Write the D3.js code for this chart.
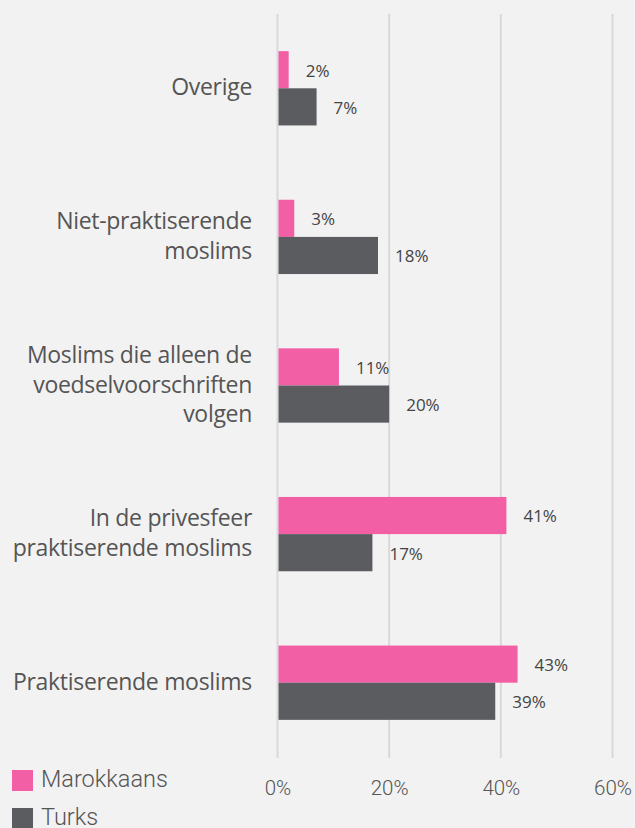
<!DOCTYPE html>
<html lang="nl">
<head>
<meta charset="utf-8">
<script src="https://d3js.org/d3.v7.min.js"></script>
<style>
body { margin: 0; background: #f2f2f2; }
svg { display: block; }
text.cat { font-family: 'Open Sans', sans-serif; font-size: 23px; letter-spacing: -0.3px; fill: #555; }
text.value { font-family: 'Open Sans', sans-serif; font-size: 17px; fill: #444; }
.axis text { font-family: Roboto, sans-serif; font-weight: 300; font-size: 20.5px; fill: #555; }
.axis path { display: none; }
.grid line { stroke: #d9d9d9; stroke-width: 2; }
text.legend { font-family: Roboto, sans-serif; font-weight: 300; font-size: 23.5px; fill: #555; }
</style>
</head>
<body>
<svg id="chart" width="635" height="828"></svg>
<script>
// categories, top to bottom (each entry = lines of the label)
const categories = [
  ['Overige'],
  ['Niet-praktiserende', 'moslims'],
  ['Moslims die alleen de', 'voedselvoorschriften', 'volgen'],
  ['In de privesfeer', 'praktiserende moslims'],
  ['Praktiserende moslims']
]
const marokkaans = [2, 3, 11, 41, 43]
const turks = [7, 18, 20, 17, 39]
const series = ['Marokkaans', 'Turks']
const colors = ['#f25fa5', '#5b5c60']
const ticks = [0, 20, 40, 60]

const svg = d3.select('#chart')

const x = d3.scaleLinear().domain([0, 60]).range([277.5, 612.5])
const y = d3.scaleBand()
  .domain(categories.map((c, i) => i))
  .range([14, 757])
  .paddingInner(0.5)
  .paddingOuter(0.25)
const sub = d3.scaleBand().domain(series).range([0, y.bandwidth()])

// gridlines
svg.append('g')
  .attr('class', 'grid')
  .selectAll('line')
  .data(ticks)
  .join('line')
  .attr('x1', d => x(d)).attr('x2', d => x(d))
  .attr('y1', 14).attr('y2', 758)

// bars
const rows = categories.map((c, i) => ({ i, vals: [marokkaans[i], turks[i]] }))
const groups = svg.append('g').selectAll('g')
  .data(rows)
  .join('g')
  .attr('transform', d => `translate(0, ${y(d.i)})`)

groups.selectAll('rect')
  .data(d => d.vals.map((v, k) => ({ v, k })))
  .join('rect')
  .attr('x', x(0) + 1)
  .attr('y', d => sub(series[d.k]))
  .attr('width', d => x(d.v) - x(0) - 1)
  .attr('height', sub.bandwidth())
  .attr('fill', d => colors[d.k])

groups.selectAll('text.value')
  .data(d => d.vals.map((v, k) => ({ v, k })))
  .join('text')
  .attr('class', 'value')
  .attr('x', d => x(d.v) + 17)
  .attr('y', d => sub(series[d.k]) + sub.bandwidth() / 2 + 1)
  .attr('dy', '0.35em')
  .text(d => d.v + '%')

// category labels
const lineH = 29.5
svg.append('g').selectAll('text')
  .data(categories)
  .join('text')
  .attr('class', 'cat')
  .attr('text-anchor', 'end')
  .attr('x', 252)
  .attr('y', (d, i) => y(i) + y.bandwidth() / 2 - (d.length - 1) * lineH / 2 - 1)
  .selectAll('tspan')
  .data(d => d)
  .join('tspan')
  .attr('x', 252)
  .attr('dy', (d, j) => j === 0 ? '0.35em' : lineH)
  .text(d => d)

// x axis labels
svg.append('g')
  .attr('class', 'axis')
  .attr('transform', 'translate(0, 780)')
  .call(d3.axisBottom(x).tickValues(ticks).tickSize(0).tickPadding(0).tickFormat(d => d + '%'))

// legend
const legend = svg.append('g').selectAll('g')
  .data(series)
  .join('g')
  .attr('transform', (d, i) => `translate(12, ${770 + i * 38})`)
legend.append('rect')
  .attr('width', 21).attr('height', 21)
  .attr('fill', (d, i) => colors[i])
legend.append('text')
  .attr('class', 'legend')
  .attr('x', 29).attr('y', 9).attr('dy', '0.35em')
  .text(d => d)
</script>
</body>
</html>
